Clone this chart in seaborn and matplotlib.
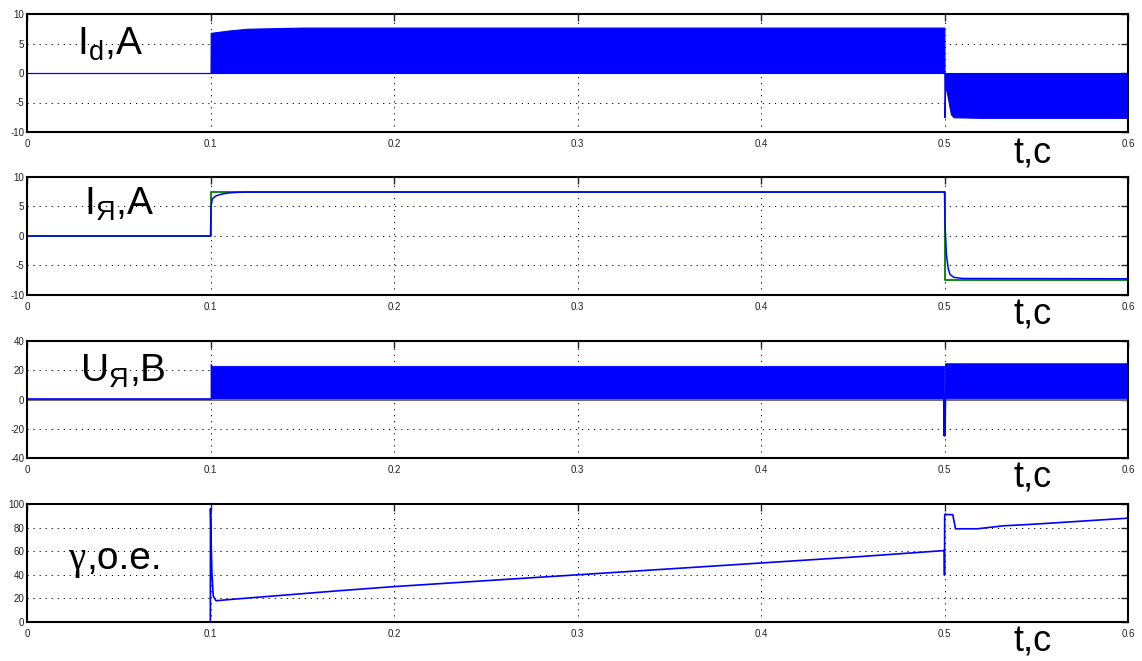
import numpy as np
import pandas as pd
import matplotlib.pyplot as plt
import seaborn as sns

# --- data (time in s) ---
x_ticks = [0, 0.1, 0.2, 0.3, 0.4, 0.5, 0.6]
x_labels = ["0", "0.1", "0.2", "0.3", "0.4", "0.5", "0.6"]

# I_d : PWM current, drawn as its envelope band
id_t = [0, 0.1, 0.1001, 0.105, 0.11, 0.12, 0.15, 0.4999, 0.5, 0.5004, 0.502, 0.5035, 0.505, 0.52, 0.6]
id_hi = [0, 0, 6.8, 7.0, 7.2, 7.5, 7.7, 7.7, 0, 0, 0, 0, 0, 0, 0]
id_lo = [0, 0, 0, 0, 0, 0, 0, 0, -7.5, -2.0, -4.5, -7.0, -7.5, -7.6, -7.6]

# I_Я : reference (green) and actual armature current (blue)
ref_t = [0, 0.1, 0.1, 0.5, 0.5, 0.6]
ref_v = [0, 0, 7.5, 7.5, -7.4, -7.4]
ia_t = [0, 0.1, 0.1003, 0.101, 0.103, 0.106, 0.11, 0.115, 0.12, 0.13, 0.5,
        0.5003, 0.501, 0.502, 0.503, 0.505, 0.51, 0.6]
ia_v = [0, 0, 5.0, 6.3, 6.8, 7.1, 7.3, 7.4, 7.45, 7.45, 7.45,
        2.0, -3.0, -5.5, -6.5, -7.0, -7.2, -7.25]

# U_Я : PWM voltage band, initial level, reversal spike
ua_t = [0.1, 0.1002, 0.1008, 0.4998, 0.4999, 0.5003, 0.6]
ua_hi = [24.3, 24.0, 23.0, 23.0, 0, 24.8, 24.8]
ua_lo = [0, 0, 0, 0, 0, 0.8, 0.8]
ua_pre_t = [0, 0.1]
ua_pre_v = [0.6, 0.6]
ua_spike_t = [0.4999, 0.5, 0.5002]
ua_spike_v = [0, -24.5, 0]
ua_zero_t = [0, 0.6]
ua_zero_v = [0, 0]

# gamma, relative duty
g_t = [0, 0.0999, 0.1, 0.1004, 0.1008, 0.1015, 0.103, 0.11, 0.13, 0.15, 0.17, 0.2,
       0.25, 0.3, 0.35, 0.4, 0.45, 0.4995, 0.4999, 0.5, 0.5001, 0.5045, 0.506,
       0.518, 0.532, 0.55, 0.58, 0.6]
g_v = [0, 0, 96, 65, 40, 22, 18, 19, 21.5, 24, 26.5, 30,
       35, 40, 45, 50, 55, 60.5, 60.5, 40, 91, 91, 79,
       79, 81.5, 83, 86, 88]

y_ticks = [[-10, -5, 0, 5, 10], [-10, -5, 0, 5, 10], [-40, -20, 0, 20, 40], [0, 20, 40, 60, 80, 100]]
panel_labels = ["I$_\\mathrm{d}$,A", "I$_\\mathrm{Я}$,A", "U$_\\mathrm{Я}$,B"]
time_label = "t,c"

sns.set_style("white")
plt.rcParams['font.family'] = ['Liberation Sans', 'DejaVu Sans']
plt.rcParams['text.color'] = 'black'
plt.rcParams['mathtext.fontset'] = 'custom'
plt.rcParams['mathtext.rm'] = 'Liberation Sans'
plt.rcParams['mathtext.it'] = 'Liberation Sans:italic'
plt.rcParams['mathtext.bf'] = 'Liberation Sans:bold'

W, H = 1142, 661
fig = plt.figure(figsize=(W / 100, H / 100), dpi=100)

# axes boxes in pixels: (top, bottom)
boxes = [(14, 132), (177, 295), (341, 458), (504, 622)]
axes = []
for (top, bot), yt in zip(boxes, y_ticks):
    ax = fig.add_axes([27 / W, 1 - bot / H, 1101 / W, (bot - top) / H])
    ax.set_xlim(0, 0.6)
    ax.set_ylim(yt[0], yt[-1])
    ax.set_xticks(x_ticks)
    ax.set_xticklabels(x_labels)
    ax.set_yticks(yt)
    ax.set_yticklabels([str(v) for v in yt])
    ax.grid(True, color='k', linestyle=(0, (1.2, 5)), linewidth=0.7)
    ax.tick_params(direction='in', top=True, right=True, length=5, width=1,
                   labelsize=7, labelcolor='#222222')
    ax.tick_params(axis='y', pad=2)
    ax.tick_params(axis='x', pad=5)
    for s in ax.spines.values():
        s.set_color('k')
        s.set_linewidth(1.5)
    ax.set_axisbelow(True)
    axes.append(ax)

blue = '#0000ff'
green = '#008000'

# I_d
ax = axes[0]
ax.fill_between(id_t, id_lo, id_hi, color=blue, edgecolor=blue, linewidth=0.8)

# I_Я
ax = axes[1]
sns.lineplot(x=ref_t, y=ref_v, ax=ax, color=green, lw=1.3, estimator=None, sort=False)
sns.lineplot(x=ia_t, y=ia_v, ax=ax, color=blue, lw=1.1, estimator=None, sort=False)

# U_Я
ax = axes[2]
sns.lineplot(x=ua_zero_t, y=ua_zero_v, ax=ax, color='#707070', lw=1.5, estimator=None, sort=False)
ax.fill_between(ua_t, ua_lo, ua_hi, color=blue, edgecolor=blue, linewidth=0.6)
sns.lineplot(x=ua_pre_t, y=ua_pre_v, ax=ax, color=blue, lw=1.2, estimator=None, sort=False)
sns.lineplot(x=ua_spike_t, y=ua_spike_v, ax=ax, color=blue, lw=2.0, estimator=None, sort=False)

# gamma
ax = axes[3]
sns.lineplot(x=g_t, y=g_v, ax=ax, color=blue, lw=1.2, estimator=None, sort=False)

for ax in axes:
    ax.set_xlabel('')
    ax.set_ylabel('')

# big labels inside the panels (pixel positions: left, baseline)
label_pos = [(77, 55), (84, 215), (80, 382)]
for (px, py), txt in zip(label_pos, panel_labels):
    fig.text(px / W, 1 - py / H, txt, fontsize=28, va='baseline', ha='left')
fig.text(68 / W, 1 - 569 / H, "γ", fontsize=28, va='baseline', ha='left',
         family=['Liberation Serif', 'DejaVu Serif'])
fig.text(86 / W, 1 - 569 / H, ",o.e.", fontsize=28, va='baseline', ha='left')

# time labels under each panel
for py in [163, 325, 488, 652]:
    fig.text(1014 / W, 1 - py / H, time_label, fontsize=26, va='baseline', ha='left')

fig.savefig("out.png", dpi=100)
